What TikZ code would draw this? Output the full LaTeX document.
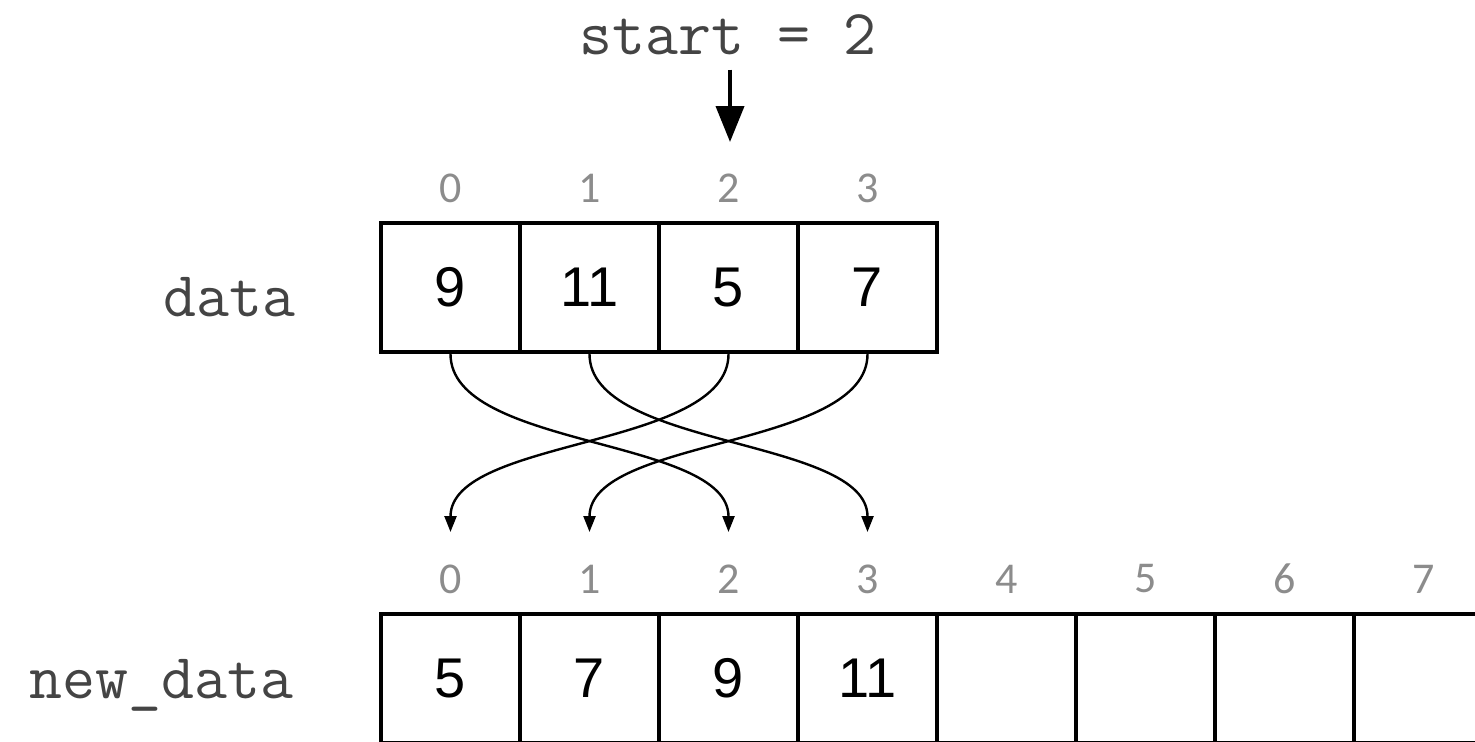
\documentclass[tikz,border=0pt]{standalone}
\usepackage{fontspec}
\setmainfont{Liberation Sans}
\setmonofont{Latin Modern Mono}
\newfontfamily\idxfont{Carlito}
\usetikzlibrary{arrows.meta,calc}
\definecolor{labelgray}{HTML}{444444}
\definecolor{idxgray}{HTML}{8C8C8C}

\begin{document}
\begin{tikzpicture}[x=0.5pt,y=-0.5pt,
  cell/.style={draw=black,line width=2pt,minimum width=69.5pt,minimum height=64.5pt,
    inner sep=0pt,font=\fontsize{28}{32}\selectfont},
  idx/.style={text=idxgray,font=\idxfont\fontsize{22}{24}\selectfont,inner sep=0pt},
  codefont/.style={text=labelgray,font=\ttfamily\fontsize{32}{36}\selectfont,inner sep=0pt},
  arrname/.style={codefont,anchor=east},
  move/.style={line width=1.2pt,-{Triangle[width=6pt,length=8pt]}},
  pointer/.style={line width=2pt,-{Triangle[width=14pt,length=18pt]}}]
\useasboundingbox (0,0) rectangle (1475,741);

% source array
\foreach \v [count=\i from 0] in {9,11,5,7}{
  \node[cell] (d\i) at (450.5+139*\i,287.5) {\v};
  \node[idx] (di\i) at (450.5+139*\i,188) {\i};
}
\node[arrname] (dlabel) at (296,297) {data};

% destination array
\foreach \v [count=\i from 0] in {5,7,9,11,{},{},{},{}}{
  \node[cell] (n\i) at (450.5+139*\i,678.5) {\v};
  \node[idx] (ni\i) at (450.5+139*\i,579) {\i};
}
\node[arrname] (nlabel) at (294,685) {new\_data};

% arrow tips above the destination indices
\foreach \i in {0,...,3}{
  \coordinate (t\i) at (450.5+139*\i,532);
}

% start pointer
\node[codefont] (start) at (728,35) {start = 2};
\coordinate (ptr) at (730,142);
\draw[pointer,shorten <=7pt] (start.south -| ptr) -- (ptr);

% element moves
\draw[move] (d0.south) .. controls ($(d0.south)+(0,95)$) and ($(t2)+(0,-95)$) .. (t2);
\draw[move] (d1.south) .. controls ($(d1.south)+(0,95)$) and ($(t3)+(0,-95)$) .. (t3);
\draw[move] (d2.south) .. controls ($(d2.south)+(0,95)$) and ($(t0)+(0,-95)$) .. (t0);
\draw[move] (d3.south) .. controls ($(d3.south)+(0,95)$) and ($(t1)+(0,-95)$) .. (t1);
\end{tikzpicture}
\end{document}
